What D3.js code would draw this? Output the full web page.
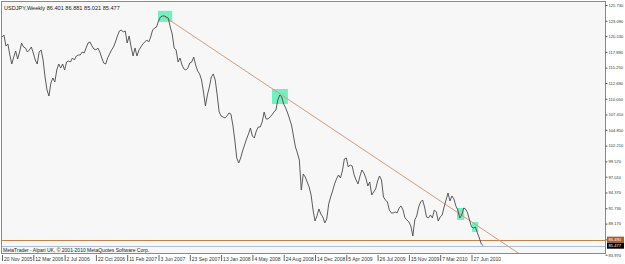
<!DOCTYPE html>
<html>
<head>
<meta charset="utf-8">
<script src="https://cdn.jsdelivr.net/npm/d3@7"></script>
<style>
body { margin: 0; background: #fff; }
svg text { font-family: "Liberation Sans", Arial, sans-serif; }
</style>
</head>
<body>
<div id="chart"></div>
<script>
var titleText = 'USDJPY,Weekly  86.401 86.881 85.021 85.477',
	copyrightText = 'MetaTrader - Alpari UK, \u00a9 2001-2010 MetaQuotes Software Corp.',
	firstWeek = '20 Nov 2005',
	// weekly closes, one per week from firstWeek
	closes = [120.38,120.71,118.87,119.21,117.37,115.86,117.03,118.04,116.70,117.87,
		119.38,118.71,118.54,117.87,118.21,118.71,117.70,116.53,115.86,117.87,
		118.21,116.53,113.69,111.52,110.51,112.69,113.52,112.85,114.86,115.86,
		115.19,115.86,114.86,116.20,116.37,116.20,116.87,116.53,117.20,117.37,
		117.37,117.87,117.70,118.54,119.38,119.54,118.87,118.37,118.21,118.54,
		117.87,116.87,116.03,115.86,116.87,117.54,118.21,118.71,119.54,120.55,
		121.38,121.55,121.21,121.38,119.38,120.55,118.71,117.20,118.54,117.20,
		118.21,118.71,119.21,119.54,119.88,119.54,120.38,121.55,121.88,122.05,
		123.05,123.72,123.89,123.89,123.72,123.55,122.05,120.88,118.54,118.21,
		116.20,116.87,115.70,115.03,114.86,115.19,116.03,116.20,117.03,115.70,
		114.70,114.20,113.19,111.18,108.84,110.68,112.02,113.69,114.20,113.19,
		110.68,107.84,107.17,107.00,106.84,107.17,107.67,107.50,105.66,103.16,
		100.15,99.31,100.15,101.32,102.32,103.32,104.16,105.16,103.82,103.49,
		104.66,105.33,105.33,106.17,107.84,106.67,106.67,107.00,107.34,107.84,
		108.17,109.84,110.68,110.35,109.17,108.51,107.67,106.67,105.66,103.82,
		101.98,100.98,99.81,94.79,97.47,96.97,96.13,95.30,93.96,91.45,
		89.61,90.45,91.62,90.78,90.28,89.28,89.94,92.45,93.62,94.63,
		95.80,96.64,97.30,96.80,97.97,99.98,100.15,98.64,98.97,98.81,
		97.30,96.47,95.80,97.13,98.14,97.64,96.80,95.47,96.13,93.96,
		94.46,94.96,96.30,97.13,96.47,93.62,93.12,92.79,91.45,90.95,
		90.95,91.12,90.95,91.78,92.12,91.45,90.12,89.78,89.44,88.77,
		87.09,89.78,90.45,91.95,92.79,93.12,91.95,90.28,90.12,90.61,
		90.12,91.45,91.12,89.61,90.28,90.61,91.95,93.12,94.29,92.95,
		93.79,93.29,92.12,91.45,90.12,90.61,91.78,91.62,90.95,89.78,
		88.61,88.44,88.61,87.61,86.77,85.77,85.477],
	dateLabels = ['20 Nov 2005', '12 Mar 2006', '2 Jul 2006', '22 Oct 2006', '11 Feb 2007', '3 Jun 2007',
		'23 Sep 2007', '13 Jan 2008', '4 May 2008', '24 Aug 2008', '14 Dec 2008', '5 Apr 2009',
		'26 Jul 2009', '15 Nov 2009', '7 Mar 2010', '27 Jun 2010'],
	priceTicks = [125.730, 123.090, 120.530, 117.890, 115.250, 112.690, 110.050, 107.410, 104.850,
		102.210, 99.570, 97.010, 94.370, 91.730, 89.170, 86.530, 83.970],
	// trend line anchors: [date, price]
	trendPoints = [['17 Jun 2007', 124.0], ['24 Aug 2008', 110.45]],
	// rectangles: [from, to, top price, bottom price]
	boxes = [['1 Jun 2007', '22 Jul 2007', 124.75, 122.90],
		['13 Jul 2008', '8 Sep 2008', 111.68, 109.17],
		['6 May 2010', '1 Jun 2010', 91.78, 89.78],
		['29 Jun 2010', '21 Jul 2010', 89.44, 87.78]],
	levelPrice = 86.490,
	bidPrice = 85.477;

var width = 625, height = 264,
	plot = { left: 2, top: 2, right: 606, bottom: 254 };

var parse = d3.timeParse('%d %b %Y');
var start = parse(firstWeek);
var weeks = closes.map(function(c, i) { return { date: d3.timeDay.offset(start, i * 7), close: c }; });

var x = d3.scaleTime()
	.domain([start, parse('27 Jun 2010')])
	.range([2, 471.5]);
var y = d3.scaleLinear()
	.domain([83.97, 125.73])
	.range([254.7, 5]);

var svg = d3.select('#chart').append('svg')
	.attr('width', width)
	.attr('height', height);

svg.append('rect')
	.attr('x', plot.left).attr('y', plot.top)
	.attr('width', plot.right - plot.left).attr('height', plot.bottom - plot.top)
	.attr('fill', '#f7f7f7');

svg.append('clipPath').attr('id', 'clip')
	.append('rect')
	.attr('x', plot.left).attr('y', plot.top)
	.attr('width', plot.right - plot.left).attr('height', plot.bottom - plot.top);

var g = svg.append('g').attr('clip-path', 'url(#clip)');

// green rectangles
g.selectAll('.box')
	.data(boxes)
	.enter().append('rect')
	.attr('class', 'box')
	.attr('x', function(d) { return x(parse(d[0])); })
	.attr('y', function(d) { return y(d[2]); })
	.attr('width', function(d) { return x(parse(d[1])) - x(parse(d[0])); })
	.attr('height', function(d) { return y(d[3]) - y(d[2]); })
	.attr('fill', '#72f0c0');

// horizontal levels
g.append('line')
	.attr('x1', plot.left).attr('x2', plot.right)
	.attr('y1', Math.round(y(levelPrice)) + 0.5).attr('y2', Math.round(y(levelPrice)) + 0.5)
	.attr('stroke', '#c4804e').attr('stroke-width', 1);
g.append('line')
	.attr('x1', plot.left).attr('x2', plot.right)
	.attr('y1', Math.round(y(bidPrice)) + 0.5).attr('y2', Math.round(y(bidPrice)) + 0.5)
	.attr('stroke', '#a9c0d8').attr('stroke-width', 1);

// trend line (ray), clipped by plot area
var p0 = [x(parse(trendPoints[0][0])), y(trendPoints[0][1])],
	p1 = [x(parse(trendPoints[1][0])), y(trendPoints[1][1])],
	slope = (p1[1] - p0[1]) / (p1[0] - p0[0]);
g.append('line')
	.attr('x1', p0[0]).attr('y1', p0[1])
	.attr('x2', plot.right).attr('y2', p0[1] + slope * (plot.right - p0[0]))
	.attr('stroke', '#d29c7c').attr('stroke-width', 1);

// price line
var line = d3.line()
	.x(function(d) { return x(d.date); })
	.y(function(d) { return y(d.close); });
g.append('path')
	.datum(weeks)
	.attr('d', line)
	.attr('fill', 'none')
	.attr('stroke', '#4a4a4a')
	.attr('stroke-width', 0.9);

// frame
svg.append('rect')
	.attr('x', plot.left - 0.5).attr('y', plot.top - 0.5)
	.attr('width', plot.right - plot.left).attr('height', plot.bottom - plot.top)
	.attr('fill', 'none').attr('stroke', '#8a8a8a');

// right price axis
var yAxis = d3.axisRight(y)
	.tickValues(priceTicks)
	.tickSize(2)
	.tickPadding(1)
	.tickFormat(d3.format('.3f'));
var ya = svg.append('g')
	.attr('transform', 'translate(' + (plot.right - 0.5) + ',0)')
	.call(yAxis);
ya.select('.domain').remove();
ya.selectAll('line').attr('stroke', '#555');
ya.selectAll('text')
	.attr('font-size', 4.1)
	.attr('font-family', '"Liberation Sans", Arial, sans-serif')
	.attr('fill', '#333');

// bottom date axis
var xAxis = d3.axisBottom(x)
	.tickValues(dateLabels.map(parse))
	.tickSize(6)
	.tickFormat(d3.timeFormat('%-d %b %Y'));
var xa = svg.append('g')
	.attr('transform', 'translate(0,' + (plot.bottom + 1) + ')')
	.call(xAxis);
xa.select('.domain').remove();
xa.selectAll('line').attr('stroke', '#666');
xa.selectAll('text')
	.attr('font-size', 5)
	.attr('font-family', '"Liberation Sans", Arial, sans-serif')
	.attr('fill', '#333')
	.attr('text-anchor', 'start')
	.attr('dx', 1.5)
	.attr('y', 2.5)
	.attr('dy', '0.6em');

// price labels on axis
function priceTag(price, bg) {
	var ty = y(price);
	svg.append('rect')
		.attr('x', plot.right + 1).attr('y', ty - 3)
		.attr('width', 17).attr('height', 6)
		.attr('fill', bg);
	svg.append('text')
		.attr('x', plot.right + 2.5).attr('y', ty)
		.attr('dy', '0.35em')
		.attr('font-size', 4.1)
		.attr('fill', '#fff')
		.text(d3.format('.3f')(price));
}
priceTag(levelPrice, '#b05c2c');
priceTag(bidPrice, '#000');

// texts
svg.append('text')
	.attr('x', 4).attr('y', 9.5)
	.attr('font-size', 5.6)
	.attr('fill', '#222')
	.text(titleText);
svg.append('text')
	.attr('x', 3).attr('y', 252)
	.attr('font-size', 5)
	.attr('fill', '#222')
	.text(copyrightText);
</script>
</body>
</html>
